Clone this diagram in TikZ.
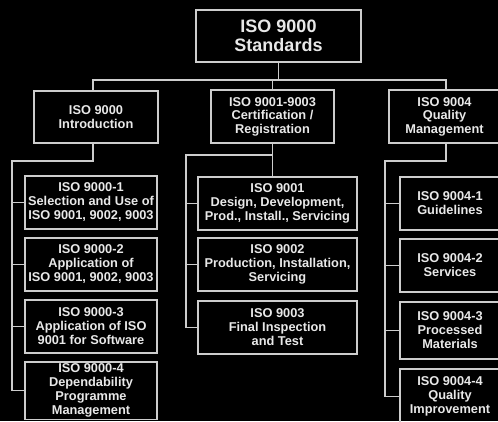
\documentclass[tikz,border=0pt]{standalone}
\usepackage{fontspec}
\setmainfont{Liberation Sans}
\definecolor{ln}{RGB}{205,205,205}
\definecolor{tx}{RGB}{232,232,232}
\tikzset{
  bx/.style={draw=ln, line width=1.3pt, text=tx, align=center, inner sep=1pt,
    font=\bfseries\fontsize{12.8}{14}\selectfont},
  bxmid/.style={bx, font=\bfseries\fontsize{12.8}{13.5}\selectfont},
  bxtop/.style={bx, font=\bfseries\fontsize{18}{18.5}\selectfont},
  wire/.style={draw=ln, line width=1.3pt}
}
\newcommand\bx[7][bx]{\node[#1, minimum width=#5-#3, minimum height=#6-#4] (#2) at ({(#3+#5)/2},{(#4+#6)/2}) {#7};}
\begin{document}
\begin{tikzpicture}[x=1pt,y=-1pt]
\useasboundingbox (0,0) rectangle (498,421);
\fill[black] (0,0) rectangle (498,421);
% top
\bx[bxtop]{top}{196}{10}{361}{62}{ISO 9000\\Standards}
% level 2
\bx[bxmid]{la}{34}{91}{158}{143}{ISO 9000\\Introduction}
\bx[bxmid]{lb}{211}{90}{334}{143}{ISO 9001-9003\\Certification /\\Registration}
\bx[bxmid]{lc}{389}{90}{500}{143}{ISO 9004\\Quality\\Management}
% left column
\bx{a1}{25}{176}{157}{229}{ISO 9000-1\\Selection and Use of\\ISO 9001, 9002, 9003}
\bx{a2}{25}{238}{157}{291}{ISO 9000-2\\Application of\\ISO 9001, 9002, 9003}
\bx{a3}{25}{300}{157}{353}{ISO 9000-3\\Application of ISO\\9001 for Software}
\bx{a4}{25}{362}{157}{419.5}{ISO 9000-4\\Dependability\\Programme\\Management}
% middle column
\bx{b1}{198}{177}{357}{230}{ISO 9001\\Design, Development,\\Prod., Install., Servicing}
\bx{b2}{198}{238}{357}{291}{ISO 9002\\Production, Installation,\\Servicing}
\bx{b3}{198}{301}{357}{354}{ISO 9003\\Final Inspection\\and Test}
% right column
\bx{c1}{400}{177}{500}{230}{ISO 9004-1\\Guidelines}
\bx{c2}{400}{239}{500}{292}{ISO 9004-2\\Services}
\bx{c3}{400}{302}{500}{359}{ISO 9004-3\\Processed\\Materials}
\bx{c4}{400}{369}{500}{424}{ISO 9004-4\\Quality\\Improvement}
% top bus
\coordinate (bl) at (93,80);
\coordinate (br) at (446,80);
\draw[wire] (top.south) -- (top.south |- bl);
\draw[wire] (bl |- la.north) -- (bl) -- (br) -- (br |- lc.north);
\draw[wire] (lb.north) -- (lb.north |- bl);
% left branch
\coordinate (ja) at (12,161);
\draw[wire] (bl |- la.south) -- (bl |- ja) -- (ja) -- (ja |- a4.west) -- (a4.west);
\draw[wire] (ja |- a1.west) -- (a1.west);
\draw[wire] (ja |- a2.west) -- (a2.west);
\draw[wire] (ja |- a3.west) -- (a3.west);
% middle branch
\coordinate (jb) at (186,155);
\draw[wire] (lb.south) -- (lb.south |- b1.north);
\draw[wire] (lb.south |- jb) -- (jb) -- (jb |- b3.west) -- (b3.west);
\draw[wire] (jb |- b1.west) -- (b1.west);
\draw[wire] (jb |- b2.west) -- (b2.west);
% right branch
\coordinate (jc) at (385,161);
\draw[wire] (br |- lc.south) -- (br |- jc) -- (jc) -- (jc |- c4.west) -- (c4.west);
\draw[wire] (jc |- c1.west) -- (c1.west);
\draw[wire] (jc |- c2.west) -- (c2.west);
\draw[wire] (jc |- c3.west) -- (c3.west);
\end{tikzpicture}
\end{document}
